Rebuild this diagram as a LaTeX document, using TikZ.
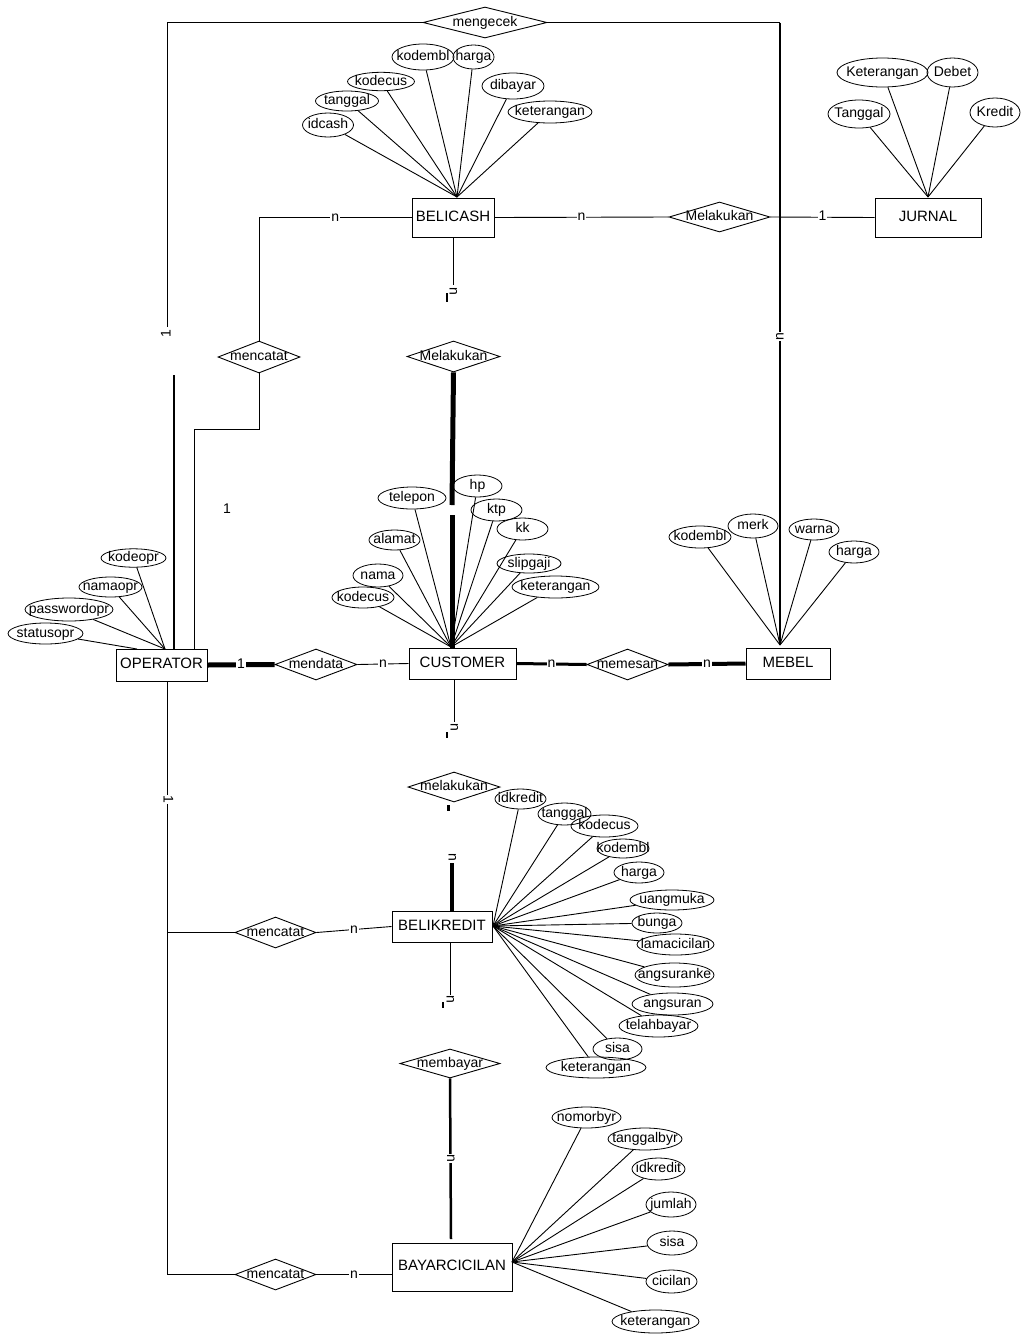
\documentclass[tikz,border=0pt]{standalone}
\usepackage{fontspec}
\setmainfont{Liberation Sans}
\usetikzlibrary{shapes.geometric}
\newcommand{\zb}[1]{\makebox[0pt]{#1}}
\newcommand{\attr}[6]{\node[att, minimum width=#4pt, minimum height=#5pt] (#1) at (#2,#3) {\zb{#6}};}
\begin{document}
\begin{tikzpicture}[x=1pt,y=-1pt,
  every node/.style={font=\fontsize{14}{16}\selectfont, text height=10pt, text depth=3pt},
  ent/.style={draw, rectangle, inner sep=0pt, line width=1pt, font=\fontsize{15}{17}\selectfont},
  rel/.style={draw, diamond, inner sep=0pt, line width=0.9pt},
  att/.style={draw, ellipse, inner sep=0pt, line width=0.8pt},
  ln/.style={line width=0.9pt},
  lbl/.style={fill=white, inner sep=1pt},
  rlbl/.style={fill=white, inner sep=0.5pt, text height=7pt, text depth=0pt},
]
\useasboundingbox (0,0) rectangle (1021,1334);

% ---------- entities ----------
\node[ent, minimum width=82pt, minimum height=39pt] (bc) at (453,217.5) {\zb{BELICASH}};
\node[ent, minimum width=106pt, minimum height=39pt] (jr) at (928,217.5) {\zb{JURNAL}};
\node[ent, minimum width=91pt, minimum height=32pt] (op) at (161.5,665) {\zb{OPERATOR}};
\node[ent, minimum width=107pt, minimum height=31pt] (cu) at (462.5,663.5) {\zb{CUSTOMER}};
\node[ent, minimum width=84pt, minimum height=31pt] (mb) at (788,663.5) {\zb{MEBEL}};
\node[ent, minimum width=100pt, minimum height=31pt] (bk) at (442,926.5) {\zb{BELIKREDIT}};
\node[ent, minimum width=120pt, minimum height=48pt] (by) at (452,1267) {\zb{BAYARCICILAN}};

% ---------- relationships ----------
\node[rel, minimum width=124pt, minimum height=31pt] (cek) at (485,22.5) {\zb{mengecek}};
\node[rel, minimum width=82pt, minimum height=32pt] (mc1) at (259,357) {\zb{mencatat}};
\node[rel, minimum width=101pt, minimum height=30pt] (mlk1) at (719.5,217) {\zb{Melakukan}};
\node[rel, minimum width=93pt, minimum height=31pt] (mlk2) at (453.5,356.5) {\zb{Melakukan}};
\node[rel, minimum width=82pt, minimum height=31pt] (mdt) at (316,664.5) {\zb{mendata}};
\node[rel, minimum width=81pt, minimum height=31pt] (mms) at (627.5,664.5) {\zb{memesan}};
\node[rel, minimum width=92pt, minimum height=30pt] (mlk3) at (454,787) {\zb{melakukan}};
\node[rel, minimum width=81pt, minimum height=31pt] (mc2) at (275.5,932.5) {\zb{mencatat}};
\node[rel, minimum width=100pt, minimum height=29pt] (mbyr) at (450,1063.5) {\zb{membayar}};
\node[rel, minimum width=81pt, minimum height=31pt] (mc3) at (275.5,1274.5) {\zb{mencatat}};

% ---------- helper coordinates ----------
\coordinate (bcP) at (457,197);
\coordinate (jrP) at (928,197);
\coordinate (cuP) at (451,647);
\coordinate (mbP) at (780,645);
\coordinate (opP) at (165,649);
\coordinate (opQ) at (137,649);
\coordinate (bkP) at (493,926);
\coordinate (byP) at (512,1262);
\coordinate (cekL) at (167,327);
\coordinate (cekR) at (780,22.5);
\coordinate (opA) at (174,375);
\coordinate (opB) at (194,429.5);
\coordinate (opS) at (167,681);
\coordinate (bcB) at (453,285);
\coordinate (cuB) at (454,679);
\coordinate (cuE) at (454,722);
\coordinate (bkT) at (452,911);
\coordinate (bkTe) at (452,863);
\coordinate (bkB) at (450,942);
\coordinate (bkBe) at (450,995);
\coordinate (mlkA) at (452,505);
\coordinate (mlkB) at (452,515);

% ---------- connectors ----------
% mengecek
\draw[ln] (cek.west) -| (cekL);
\node[rlbl, rotate=90] (l1a) at (167,334) {1};
\draw[line width=2.5pt] (opA) -- (opA |- op.north);
\draw[ln] (cek.east) -- (cekR);
\draw[line width=1.8pt] (cekR) -- node[rlbl, rotate=90, pos=0.505] (nmb) {n} (mbP);

% BELICASH - mencatat - OPERATOR
\draw[ln] (bc.west) -- node[lbl] (nbc1) {n} (bc.west -| mc1.north) -- (mc1.north);
\draw[ln] (mc1.south) |- (opB) -- (opB |- op.north);
\node (l1b) at (227,510) {1};

% BELICASH - Melakukan - JURNAL
\draw[ln] (bc.east) -- node[lbl] (nbc2) {n} (mlk1.west);
\draw[ln] (mlk1.east) -- node[lbl] (l1c) {1} (jr.west);

% BELICASH bottom stub
\draw[ln] (bc.south) -- (bcB);
\node[rlbl, rotate=-90] (nbc3) at (453,291) {n};
\draw[line width=2pt] (447,293) -- (447,302);

% Melakukan - CUSTOMER (thick, with gap)
\draw[line width=5pt] (mlk2.south) -- (mlkA);
\draw[line width=5pt] (mlkB) -- (mlkB |- cu.north);

% OPERATOR - mendata - CUSTOMER - memesan - MEBEL
\draw[line width=5pt] (op.east) -- node[lbl] (l1d) {1} (mdt.west);
\draw[ln] (mdt.east) -- node[lbl] (ncu1) {n} (cu.west);
\draw[line width=3pt] (cu.east) -- node[lbl] (ncu2) {n} (mms.west);
\draw[line width=4pt] (mms.east) -- node[lbl] (nmb2) {n} (mb.west);

% CUSTOMER bottom stub
\draw[ln] (cuB) -- (cuE);
\node[rlbl, rotate=-90] (ncu3) at (454,727) {n};
\draw[line width=2pt] (447,732) -- (447,738);

% OPERATOR - mencatat - BELIKREDIT / BAYARCICILAN
\draw[ln] (opS) -- node[rlbl, rotate=-90, pos=0.2] (l1e) {1} (opS |- mc3.west) -- (mc3.west);
\draw[ln] (opS |- mc2.west) -- (mc2.west);
\draw[ln] (mc2.east) -- node[lbl] (nbk1) {n} (bk.west);
\draw[ln] (mc3.east) -- node[lbl] (nby1) {n} (mc3.east -| by.west);

% BELIKREDIT top / bottom stubs
\draw[line width=4pt] (bkT) -- (bkTe);
\node[rlbl, rotate=-90] (nbk2) at (452,857) {n};
\draw[line width=3pt] (448,805) -- (448,811);
\draw[ln] (bkB) -- (bkBe);
\node[rlbl, rotate=-90] (nbk3) at (450,999) {n};
\draw[line width=2pt] (443,1002) -- (443,1008);

% membayar - BAYARCICILAN
\draw[line width=2.5pt] (mbyr.south) -- node[rlbl, rotate=-90] (nby2) {n} (451,1239);

% ---------- attributes ----------
% BELICASH
\attr{a1}{328}{125}{51}{24}{idcash}
\attr{a2}{347}{101}{63}{20}{tanggal}
\attr{a3}{381}{81.5}{67}{17}{kodecus}
\attr{a4}{423}{57}{62}{26}{kodembl}
\attr{a5}{473.5}{57}{41}{24}{harga}
\attr{a6}{513}{86}{62}{26}{dibayar}
\attr{a7}{550}{112}{84}{22}{keterangan}
\foreach \a in {a1,a2,a3,a4,a5,a6,a7} \draw[ln] (\a) -- (bcP);

% JURNAL
\attr{j1}{882.5}{72.5}{91}{29}{Keterangan}
\attr{j2}{952.5}{72.5}{51}{29}{Debet}
\attr{j3}{859}{114}{62}{28}{Tanggal}
\attr{j4}{995}{112.5}{50}{29}{Kredit}
\foreach \a in {j1,j2,j3,j4} \draw[ln] (\a) -- (jrP);

% CUSTOMER
\attr{c1}{412}{498}{68}{22}{telepon}
\attr{c2}{477.5}{486}{49}{22}{hp}
\attr{c3}{496.5}{510}{51}{22}{ktp}
\attr{c4}{522.5}{529}{51}{22}{kk}
\attr{c5}{394.5}{540}{51}{20}{alamat}
\attr{c6}{529}{563.5}{64}{19}{slipgaji}
\attr{c7}{378}{575.5}{50}{23}{nama}
\attr{c8}{363}{597.5}{62}{21}{kodecus}
\attr{c9}{555.5}{587}{87}{22}{keterangan}
\foreach \a in {c1,c2,c3,c4,c5,c6,c7,c8,c9} \draw[ln] (\a) -- (cuP);

% MEBEL
\attr{m1}{700}{537}{62}{22}{kodembl}
\attr{m2}{753}{526}{50}{24}{merk}
\attr{m3}{814}{529.5}{50}{21}{warna}
\attr{m4}{854}{552}{50}{22}{harga}
\foreach \a in {m1,m2,m3,m4} \draw[ln] (\a) -- (mbP);

% OPERATOR
\attr{o1}{133.5}{558}{65}{18}{kodeopr}
\attr{o2}{110.5}{587}{63}{20}{namaopr}
\attr{o3}{69}{609.5}{88}{23}{passwordopr}
\attr{o4}{45.5}{633.5}{75}{21}{statusopr}
\foreach \a in {o1,o2,o3} \draw[ln] (\a) -- (opP);
\draw[ln] (o4) -- (opQ);

% BELIKREDIT
\attr{k1}{520.5}{799}{51}{20}{idkredit}
\attr{k2}{564.5}{814}{53}{22}{tanggal}
\attr{k3}{604.5}{826}{67}{22}{kodecus}
\attr{k4}{623}{848.5}{52}{19}{kodembl}
\attr{k5}{639}{872.5}{50}{21}{harga}
\attr{k6}{672}{900}{84}{20}{uangmuka}
\attr{k7}{657}{923}{50}{20}{bunga}
\attr{k8}{675.5}{944.5}{77}{21}{lamacicilan}
\attr{k9}{674.5}{975}{79}{24}{angsuranke}
\attr{k10}{672.5}{1004}{81}{22}{angsuran}
\attr{k11}{658.5}{1026}{79}{22}{telahbayar}
\attr{k12}{617.5}{1049}{49}{22}{sisa}
\attr{k13}{596}{1067.5}{100}{21}{keterangan}
\foreach \a in {k1,k2,k3,k4,k5,k6,k7,k8,k9,k10,k11,k12,k13} \draw[ln] (\a) -- (bkP);

% BAYARCICILAN
\attr{b1}{586.5}{1117.5}{69}{21}{nomorbyr}
\attr{b2}{645}{1139}{74}{22}{tanggalbyr}
\attr{b3}{658.5}{1169}{53}{22}{idkredit}
\attr{b4}{671}{1204.5}{50}{25}{jumlah}
\attr{b5}{672}{1243}{50}{24}{sisa}
\attr{b6}{671.5}{1281.5}{51}{23}{cicilan}
\attr{b7}{655.5}{1321.5}{87}{23}{keterangan}
\foreach \a in {b1,b2,b3,b4,b5,b6,b7} \draw[ln] (\a) -- (byP);
\end{tikzpicture}
\end{document}
